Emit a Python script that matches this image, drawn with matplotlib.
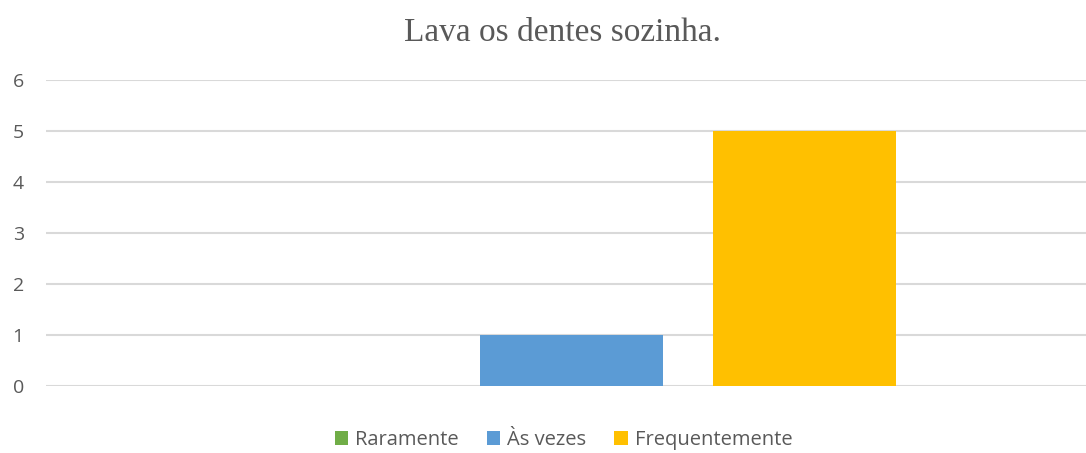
import matplotlib.pyplot as plt

series = ["Raramente", "Às vezes", "Frequentemente"]
values = [0, 1, 5]
colors = ["#70AD47", "#5B9BD5", "#FFC000"]
yticks = [0, 1, 2, 3, 4, 5, 6]

fig = plt.figure(figsize=(10.86, 4.53), dpi=100)
ax = fig.add_axes([46/1086, 1-386/453, 1-46/1086, (386-80)/453])

bar_w = 183
step = 233
for i, (name, v, c) in enumerate(zip(series, values, colors)):
    ax.bar((i-1)*step, v, width=bar_w, color=c, label=name, zorder=3)

ax.set_xlim(-525.5, 514.5)
ax.set_ylim(0, 6)
ax.set_yticks(yticks)
ax.set_xticks([])
ax.grid(axis="y", color="#d9d9d9", linewidth=1.5, zorder=0)
for s in ax.spines.values():
    s.set_visible(False)
ax.tick_params(axis="y", length=0, pad=16, labelsize=14, labelcolor="#595959")
for t in ax.get_yticklabels():
    t.set_fontfamily("Open Sans")

fig.text(0.518, 1-33/453, "Lava os dentes sozinha.", ha="center", va="center",
         fontsize=24, color="#595959", family="Liberation Serif")

leg = fig.legend(loc="center", bbox_to_anchor=(0.519, 1-440/453), ncol=3, frameon=False,
                 prop={"family": "Open Sans", "size": 14.5}, handlelength=0.65, handleheight=0.65,
                 handletextpad=0.35, columnspacing=1.4)
for t in leg.get_texts():
    t.set_color("#595959")

fig.savefig("out.png", dpi=100)
